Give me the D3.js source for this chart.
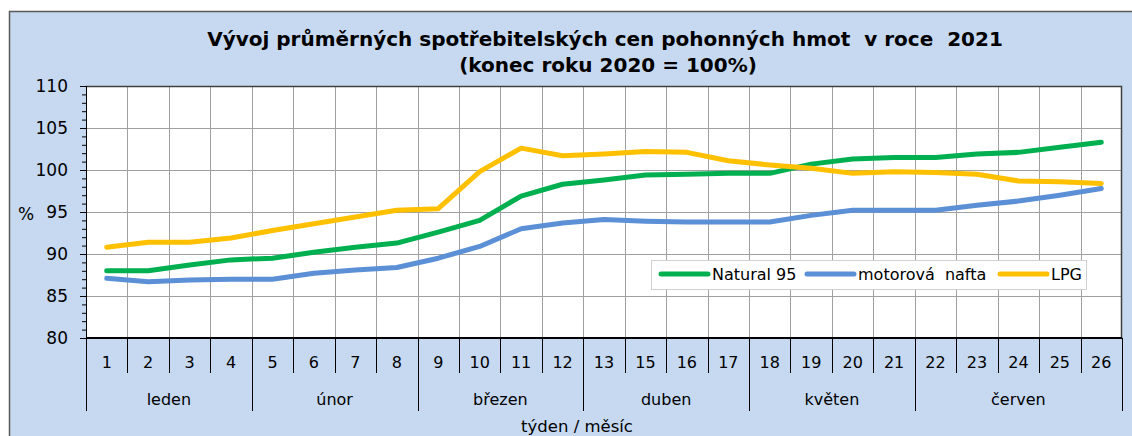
<!DOCTYPE html>
<html>
<head>
<meta charset="utf-8">
<script src="https://cdn.jsdelivr.net/npm/d3@7"></script>
<style>
  html, body { margin: 0; padding: 0; background: #fff; }
  svg { display: block; font-family: "DejaVu Sans", Tahoma, sans-serif; }
  text { white-space: pre; }
</style>
</head>
<body>
<svg id="chart"></svg>
<script>
// week numbers (week 14 is missing in the source)
const weeks = ["1", "2", "3", "4", "5", "6", "7", "8", "9", "10", "11", "12", "13",
    "15", "16", "17", "18", "19", "20", "21", "22", "23", "24", "25", "26"];
const monthNames = ["leden", "únor", "březen", "duben", "květen", "červen"];
const monthWeekCounts = [4, 4, 4, 4, 4, 5];

const natural95 = [88.0, 88.0, 88.7, 89.3, 89.5, 90.2, 90.8, 91.3, 92.6, 94.0, 96.9, 98.3, 98.8,
    99.4, 99.5, 99.6, 99.6, 100.7, 101.3, 101.5, 101.5, 101.9, 102.1, 102.7, 103.3];
const nafta = [87.1, 86.7, 86.9, 87.0, 87.0, 87.7, 88.1, 88.4, 89.5, 90.9, 93.0, 93.7, 94.1,
    93.9, 93.8, 93.8, 93.8, 94.6, 95.2, 95.2, 95.2, 95.8, 96.3, 97.0, 97.8];
const lpg = [90.8, 91.4, 91.4, 91.9, 92.8, 93.6, 94.4, 95.2, 95.4, 99.8, 102.6, 101.7, 101.9,
    102.2, 102.1, 101.1, 100.6, 100.2, 99.6, 99.8, 99.7, 99.5, 98.7, 98.6, 98.4];

const yTicks = [80, 85, 90, 95, 100, 105, 110];

const series = [
    { name: "Natural 95", values: natural95, color: "#00b050" },
    { name: "motorová  nafta", values: nafta, color: "#5b8fd6" },
    { name: "LPG", values: lpg, color: "#ffc000" }
];

const width = 1132;
const height = 436;
const plot = { left: 86, right: 1122, top: 86, bottom: 338 };

const svg = d3.select('#chart')
    .attr('width', width)
    .attr('height', height);

// chart background with frame
svg.append('rect')
    .attr('x', 9.5).attr('y', 11.5)
    .attr('width', width + 20).attr('height', height + 20)
    .attr('fill', '#c6d9f1')
    .attr('stroke', '#595959')
    .attr('stroke-width', 1.5);

const x = d3.scaleBand()
    .domain(weeks)
    .range([plot.left, plot.right]);

const y = d3.scaleLinear()
    .domain([80, 110])
    .range([plot.bottom, plot.top]);

svg.append('rect')
    .attr('x', plot.left).attr('y', plot.top)
    .attr('width', plot.right - plot.left).attr('height', plot.bottom - plot.top)
    .attr('fill', '#fff');

// grid
const grid = svg.append('g').attr('stroke', '#a0a0a0').attr('stroke-width', 1);
grid.selectAll('.hgrid')
    .data(yTicks.slice(1, -1))
    .join('line')
    .attr('x1', plot.left).attr('x2', plot.right)
    .attr('y1', d => Math.round(y(d)) + 0.5).attr('y2', d => Math.round(y(d)) + 0.5);
grid.selectAll('.vgrid')
    .data(weeks.slice(1))
    .join('line')
    .attr('x1', d => Math.round(x(d)) + 0.5).attr('x2', d => Math.round(x(d)) + 0.5)
    .attr('y1', plot.top).attr('y2', plot.bottom);

// plot frame top / right
svg.append('path')
    .attr('d', `M${plot.left},${plot.top + 0.5}H${plot.right - 0.5}V${plot.bottom}`)
    .attr('fill', 'none')
    .attr('stroke', '#404040')
    .attr('stroke-width', 1.5);

// data lines
const line = d3.line()
    .x((d, i) => x(weeks[i]) + x.bandwidth() / 2)
    .y(d => y(d));

svg.append('g')
    .selectAll('path')
    .data(series)
    .join('path')
    .attr('d', d => line(d.values))
    .attr('fill', 'none')
    .attr('stroke', d => d.color)
    .attr('stroke-width', 5)
    .attr('stroke-linejoin', 'round')
    .attr('stroke-linecap', 'round');

// y axis
const yAxis = svg.append('g').attr('transform', `translate(${plot.left},0)`);
yAxis.call(d3.axisLeft(y).tickValues(d3.range(80, 111, 1)).tickSize(4).tickFormat(''))
    .call(g => g.select('.domain').remove());
yAxis.append('g')
    .call(d3.axisLeft(y).tickValues(yTicks).tickSize(6).tickPadding(12))
    .call(g => g.select('.domain').remove())
    .call(g => g.selectAll('text')
        .attr('font-family', '"DejaVu Sans", Tahoma, sans-serif')
        .attr('font-size', 17)
        .attr('fill', '#000'));
yAxis.selectAll('line').attr('stroke', '#000');
svg.append('line')
    .attr('x1', plot.left + 0.5).attr('x2', plot.left + 0.5)
    .attr('y1', plot.top).attr('y2', plot.bottom)
    .attr('stroke', '#000');

svg.append('text')
    .attr('x', 26).attr('y', 220)
    .attr('text-anchor', 'middle')
    .attr('font-size', 17)
    .text('%');

// x axis: week ticks, month separators
const xAxis = svg.append('g');
xAxis.selectAll('.wk')
    .data(weeks.slice(1))
    .join('line')
    .attr('x1', d => Math.round(x(d)) + 0.5).attr('x2', d => Math.round(x(d)) + 0.5)
    .attr('y1', plot.bottom).attr('y2', 373)
    .attr('stroke', '#000');
xAxis.selectAll('.wkl')
    .data(weeks)
    .join('text')
    .attr('x', d => x(d) + x.bandwidth() / 2)
    .attr('y', 368)
    .attr('text-anchor', 'middle')
    .attr('font-size', 16)
    .text(d => d);

const monthStarts = d3.cumsum([0, ...monthWeekCounts]);
const boundaryX = i => i < weeks.length ? x(weeks[i]) : plot.right;
xAxis.selectAll('.msep')
    .data(monthStarts)
    .join('line')
    .attr('x1', d => Math.round(boundaryX(d)) + 0.5).attr('x2', d => Math.round(boundaryX(d)) + 0.5)
    .attr('y1', plot.bottom).attr('y2', 411)
    .attr('stroke', '#000');
xAxis.selectAll('.ml')
    .data(monthNames)
    .join('text')
    .attr('x', (d, i) => (boundaryX(monthStarts[i]) + boundaryX(monthStarts[i + 1])) / 2)
    .attr('y', 405)
    .attr('text-anchor', 'middle')
    .attr('font-size', 16)
    .text(d => d);

svg.append('line')
    .attr('x1', plot.left).attr('x2', plot.right)
    .attr('y1', plot.bottom).attr('y2', plot.bottom)
    .attr('stroke', '#000')
    .attr('stroke-width', 2);

svg.append('text')
    .attr('x', 577).attr('y', 432)
    .attr('text-anchor', 'middle')
    .attr('font-size', 16.5)
    .text('týden / měsíc');

// title
svg.append('text')
    .attr('x', 605).attr('y', 46)
    .attr('text-anchor', 'middle')
    .attr('font-size', 20)
    .attr('font-weight', 'bold')
    .text('Vývoj průměrných spotřebitelských cen pohonných hmot  v roce  2021');
svg.append('text')
    .attr('x', 608).attr('y', 72)
    .attr('text-anchor', 'middle')
    .attr('font-size', 20)
    .attr('font-weight', 'bold')
    .text('(konec roku 2020 = 100%)');

// legend
const legendX = [661, 807, 1000];
const legend = svg.append('g');
legend.append('rect')
    .attr('x', 651.5).attr('y', 260.5)
    .attr('width', 435).attr('height', 29)
    .attr('fill', '#fff')
    .attr('stroke', '#d0d0d0');
const item = legend.selectAll('.item')
    .data(series)
    .join('g')
    .attr('transform', (d, i) => `translate(${legendX[i]},274)`);
item.append('line')
    .attr('x1', 0).attr('x2', 47)
    .attr('stroke', d => d.color)
    .attr('stroke-width', 5)
    .attr('stroke-linecap', 'round');
item.append('text')
    .attr('x', 51).attr('y', 6)
    .attr('font-size', 16)
    .text(d => d.name);
</script>
</body>
</html>
